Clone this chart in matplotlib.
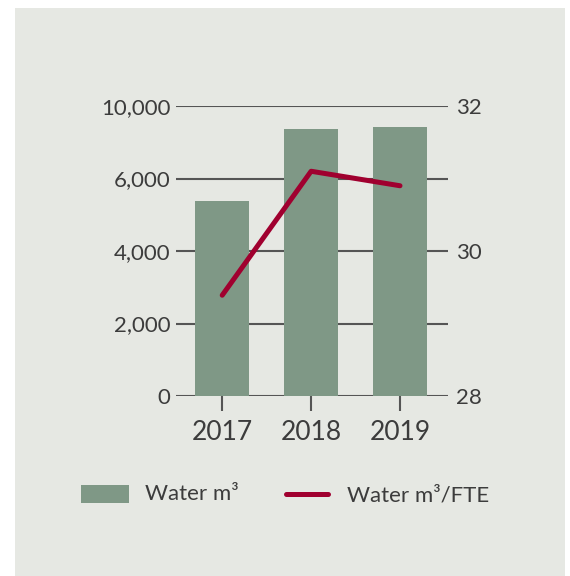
import matplotlib
matplotlib.use("Agg")
import matplotlib.pyplot as plt
from matplotlib.patches import Rectangle
from matplotlib.lines import Line2D

years = ["2017", "2018", "2019"]
water_m3 = [5390, 7360, 7420]
water_per_fte = [29.39, 31.10, 30.90]
left_ticks = [0, 2000, 4000, 6000, 8000]
left_labels = ["0", "2,000", "4,000", "6,000", "10,000"]
right_ticks = [28, 30, 32]
right_labels = ["28", "30", "32"]
legend_labels = ["Water m³", "Water m³/FTE"]

BG = "#e6e8e3"
BAR = "#7f9886"
LINE = "#a0002f"
GRID = "#555555"
TXT = "#3c3c3c"

plt.rcParams['font.family'] = ['Lato', 'DejaVu Sans']

fig = plt.figure(figsize=(5.70, 5.76), dpi=100)
fig.patch.set_facecolor("white")
fig.add_artist(Rectangle((15/570, 0), 550/570, 568/576, transform=fig.transFigure,
                         facecolor=BG, edgecolor="none", zorder=-10))

ax = fig.add_axes([176/570, 1-396/576, (448-176)/570, (396-106)/576])
ax.set_facecolor("none")
x = list(range(len(years)))
for t in left_ticks:
    ax.axhline(t, color=GRID, linewidth=1.5, zorder=1)
ax.bar(x, water_m3, width=0.607, color=BAR, zorder=3)
ax.set_xlim(-0.52, 2.54)
ax.set_ylim(0, 8000)
ax.set_yticks(left_ticks)
ax.set_yticklabels(left_labels)
ax.set_xticks(x)
ax.set_xticklabels(years)
for s in ax.spines.values():
    s.set_visible(False)
ax.tick_params(axis='y', length=0, pad=4, labelsize=16, labelcolor=TXT)
ax.tick_params(axis='x', length=11, width=1.5, color=GRID, pad=6, labelsize=19, labelcolor=TXT)

ax2 = ax.twinx()
ax2.plot(x, water_per_fte, color=LINE, linewidth=3.6, solid_capstyle='round', zorder=5)
ax2.set_ylim(28, 32)
ax2.set_yticks(right_ticks)
ax2.set_yticklabels(right_labels)
for s in ax2.spines.values():
    s.set_visible(False)
ax2.tick_params(axis='y', length=0, pad=6, labelsize=16, labelcolor=TXT)

# legend drawn manually
fig.add_artist(Rectangle((81/570, 1-503/576), 48/570, 18/576, transform=fig.transFigure,
                         facecolor=BAR, edgecolor='none'))
fig.text(145/570, 1-494/576, legend_labels[0], fontsize=16, color=TXT, va='center', ha='left')
fig.add_artist(Line2D([286/570, 328/570], [1-494/576, 1-494/576], transform=fig.transFigure,
                      color=LINE, linewidth=3.6, solid_capstyle='round'))
fig.text(347/570, 1-495/576, legend_labels[1], fontsize=16, color=TXT, va='center', ha='left')

fig.savefig("out.png", dpi=100, facecolor=fig.get_facecolor())
